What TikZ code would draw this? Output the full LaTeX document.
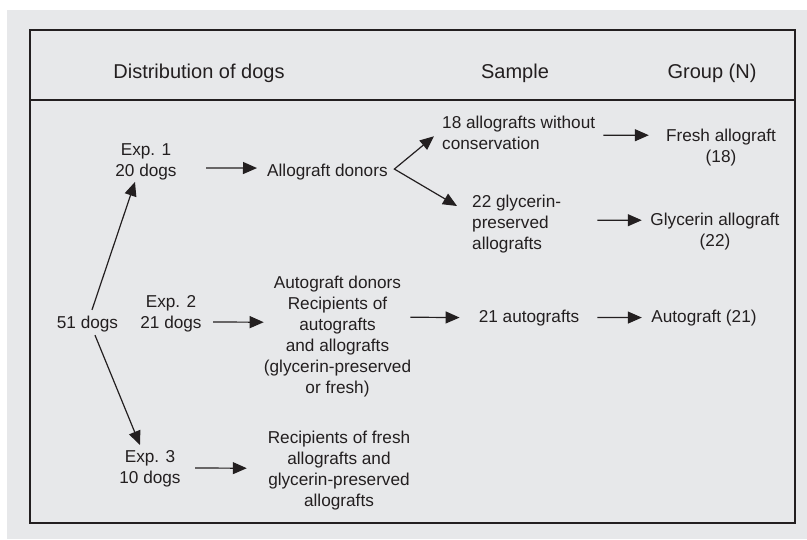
\documentclass[tikz,border=0pt]{standalone}
\usepackage{fontspec}
\setmainfont{Liberation Sans}
\usetikzlibrary{arrows.meta,calc}
\definecolor{panel}{HTML}{E7E8EA}
\definecolor{ink}{HTML}{231F20}

\begin{document}
\begin{tikzpicture}[x=1pt, y=-1pt,
		txt/.style={inner sep=0pt, text=ink, align=center, font=\fontsize{17.2}{21}\selectfont},
		head/.style={inner sep=0pt, text=ink, anchor=base, font=\fontsize{20}{24}\selectfont},
		arr/.style={-{Triangle[length=14pt,width=12pt]}, line width=1.2pt, draw=ink},
		fork/.style={{Triangle[length=14pt,width=12pt]}-{Triangle[length=14pt,width=12pt]}, line width=1.2pt, draw=ink}]
				\useasboundingbox (0,0) rectangle (807,539);
				
				% Draw panel and frame
				\fill[panel] (7,10) rectangle (807,539);
				\draw[ink, line width=1.4pt] (30,30) rectangle (795,523);
				\draw[ink, line width=1.4pt] (30,100) -- (795,100);
				
				% Column heads
				\node[head] (hdist) at (199,78) {Distribution of dogs};
				\node[head] (hsample) at (515,78) {Sample};
				\node[head] (hgroup) at (712,78) {Group (N)};
				
				% Distribution of dogs
				\node[txt, anchor=base] (n51) at (87.5,328) {51 dogs};
				\node[txt, anchor=north] (exp1) at (146,143.7) {Exp. 1\\20 dogs};
				\node[txt, anchor=north] (exp2) at (171,295.7) {Exp. 2\\21 dogs};
				\node[txt, anchor=north] (exp3) at (150,450.7) {Exp. 3\\10 dogs};
				\node[txt, anchor=base west] (alldon) at (267,176) {Allograft donors};
				\node[txt, anchor=north] (autdon) at (337.5,275.5) {Autograft donors\\Recipients of\\autografts\\and allografts\\(glycerin-preserved\\or fresh)};
				\node[txt, anchor=north] (recip) at (339,430.5) {Recipients of fresh\\allografts and\\glycerin-preserved\\allografts};
				
				% Samples
				\node[txt, align=left, anchor=north west] (s18) at (442,115.5) {18 allografts without\\conservation};
				\node[txt, align=left, anchor=north west] (s22) at (472,194.5) {22 glycerin-\\preserved\\allografts};
				\node[txt, anchor=base] (s21) at (529,322) {21 autografts};
				
				% Groups
				\node[txt, anchor=north] (gfresh) at (721,128.5) {Fresh allograft\\(18)};
				\node[txt, anchor=north] (ggly) at (715,212.5) {Glycerin allograft\\(22)};
				\node[txt, anchor=base] (gaut) at (704,322) {Autograft (21)};
				
				% Split of the dogs
				\draw[arr] ($(n51.north)+(4.5,-5.5)$) -- ($(exp1.south)+(-11,1.4)$);
				\draw[arr] ($(n51.south)+(7.5,3.4)$) -- ($(exp3.north)+(-10,-5.7)$);
				
				% Experiments
				\draw[arr] ($(exp1.east)+(29.4,5.8)$) -- ($(alldon.west)+(-10,-3.5)$);
				\draw[arr] ($(exp2.east)+(11.4,7.8)$) -- ($(autdon.west)+(0,-14)$);
				\draw[arr] ($(exp3.east)+(14.4,-1.2)$) -- ($(recip.west)+(-20.8,-2)$);
				\draw[fork] ($(s18.west)+(-8,3.75)$) -- ($(alldon.east)+(6.5,-2.5)$) -- ($(s22.north west)+(-15,11.5)$);
				\draw[arr] ($(autdon.east)+(-1,-19)$) -- ($(s21.west)+(-19,0)$);
				
				% Samples to groups
				\draw[arr] ($(s18.east)+(8,2.75)$) -- ($(gfresh.west)+(-17,-12)$);
				\draw[arr] ($(s22.east)+(36,-3.5)$) -- ($(ggly.west)+(-8.5,-11)$);
				\draw[arr] ($(s21.east)+(18,0)$) -- ($(gaut.west)+(-9.4,0)$);
			\end{tikzpicture}
\end{document}
